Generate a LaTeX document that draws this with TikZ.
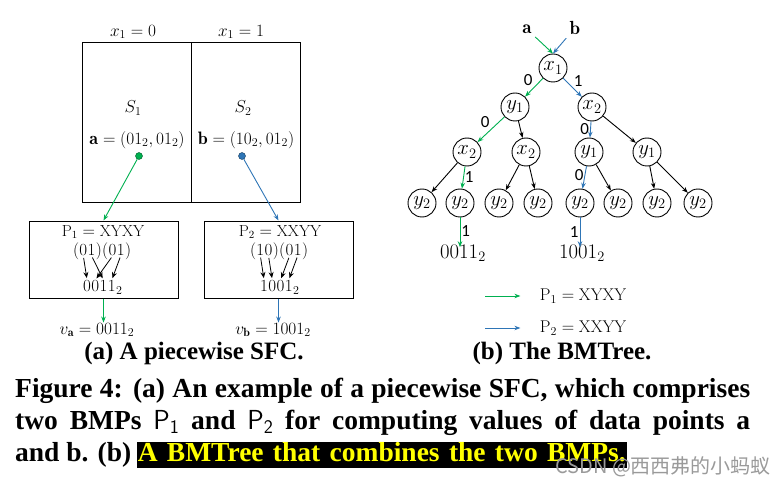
\documentclass[tikz,border=0pt]{standalone}
\usepackage{fontspec}
\usetikzlibrary{positioning, arrows.meta}
\newfontfamily\capfont{Liberation Serif}
\newfontfamily\lblfont{Carlito}
\newfontfamily\wmfont{Noto Sans CJK SC}
\newcommand{\fsz}[1]{\fontsize{#1}{#1}\selectfont}
\definecolor{pathGreen}{HTML}{00B050}
\definecolor{pathBlue}{HTML}{2E75B6}
\definecolor{markYellow}{HTML}{FFFF00}
\definecolor{markGray}{HTML}{9A9A9A}

\begin{document}
\begin{tikzpicture}[
    x=1pt, y=-1pt,
    every node/.style={font=\fsz{17}},
    bit/.style={
        circle,
        draw,
        line width=0.9pt,
        inner sep=0pt,
        minimum size=28pt,
        font=\fsz{20},
    },
    chr/.style={
        inner sep=0pt,
        anchor=base west,
    },
    cell/.style={
        draw,
        line width=1pt,
        minimum width=109pt,
        minimum height=160pt,
        inner sep=0pt,
    },
    bmpbox/.style={
        draw,
        line width=1pt,
        minimum width=149pt,
        minimum height=77pt,
        inner sep=0pt,
    },
    link/.style={
        -{Stealth[length=6pt, width=4.5pt]},
        line width=0.9pt,
    },
    glink/.style={link, color=pathGreen},
    blink/.style={link, color=pathBlue},
    mapar/.style={
        -{Stealth[length=6pt, width=5pt]},
        line width=0.8pt,
        shorten <=2pt,
        shorten >=2pt,
    },
    lbl/.style={font=\lblfont\fsz{17}, text=black, inner sep=1pt},
    subcap/.style={font=\capfont\bfseries\fsz{25}},
    caption/.style={
        font=\capfont\bfseries\fsz{27.5},
        anchor=base west,
        inner sep=0pt,
    },
]
\useasboundingbox (0,0) rectangle (783,486);

% ===== (a) piecewise SFC =====
\node[cell] (cellS1) at (136.5,123) {};
\node[cell] (cellS2) at (245.5,123) {};
\node (lx0) at (133,32) {$x_1=0$};
\node (lx1) at (241,32) {$x_1=1$};
\node[font=\fsz{18}] (lS1) at (133,108) {$S_1$};
\node[font=\fsz{18}] (lS2) at (243,108) {$S_2$};
\node[font=\fsz{18}] (pa) at (137,140) {$\mathbf{a}=(01_2,01_2)$};
\node[font=\fsz{18}] (pb) at (246,140) {$\mathbf{b}=(10_2,01_2)$};
\node[circle, inner sep=0pt, minimum size=7pt, fill=pathGreen, draw=pathGreen!50!black] (dota) at (139,156) {};
\node[circle, inner sep=0pt, minimum size=7pt, fill=pathBlue, draw=pathBlue!50!black] (dotb) at (242,156) {};

% BMP P1
\node[bmpbox] (p1box) at (103.5,259.5) {};
\node[font=\fsz{16}] (p1name) at (103,232) {$\mathrm{P}_1=\mathrm{XYXY}$};
\node[chr] (p1l1) at (72.8,255.5) {(};
\node[chr] (p1x1) at (p1l1.base east) {0};
\node[chr] (p1x2) at (p1x1.base east) {1};
\node[chr] (p1r1) at (p1x2.base east) {)};
\node[chr] (p1l2) at (p1r1.base east) {(};
\node[chr] (p1y1) at (p1l2.base east) {0};
\node[chr] (p1y2) at (p1y1.base east) {1};
\node[chr] (p1r2) at (p1y2.base east) {)};
\node[chr] (p1o1) at (83,291.5) {0};
\node[chr] (p1o2) at (p1o1.base east) {0};
\node[chr] (p1o3) at (p1o2.base east) {1};
\node[chr] (p1o4) at (p1o3.base east) {1};
\node[chr] (p1o5) at (p1o4.base east) {${}_2$};
\draw[mapar] (p1x1.south) -- (p1o1.north);
\draw[mapar] (p1y1.south) -- (p1o2.north);
\draw[mapar] (p1x2.south) -- (p1o3.north);
\draw[mapar] (p1y2.south) -- (p1o4.north);

% BMP P2
\node[bmpbox] (p2box) at (278.5,259.5) {};
\node[font=\fsz{16}] (p2name) at (280,232) {$\mathrm{P}_2=\mathrm{XXYY}$};
\node[chr] (p2l1) at (249.8,255.5) {(};
\node[chr] (p2x1) at (p2l1.base east) {1};
\node[chr] (p2x2) at (p2x1.base east) {0};
\node[chr] (p2r1) at (p2x2.base east) {)};
\node[chr] (p2l2) at (p2r1.base east) {(};
\node[chr] (p2y1) at (p2l2.base east) {0};
\node[chr] (p2y2) at (p2y1.base east) {1};
\node[chr] (p2r2) at (p2y2.base east) {)};
\node[chr] (p2o1) at (260,291.5) {1};
\node[chr] (p2o2) at (p2o1.base east) {0};
\node[chr] (p2o3) at (p2o2.base east) {0};
\node[chr] (p2o4) at (p2o3.base east) {1};
\node[chr] (p2o5) at (p2o4.base east) {${}_2$};
\draw[mapar] (p2x1.south) -- (p2o1.north);
\draw[mapar] (p2x2.south) -- (p2o2.north);
\draw[mapar] (p2y1.south) -- (p2o3.north);
\draw[mapar] (p2y2.south) -- (p2o4.north);

\node (va) at (97,330) {$v_{\mathbf{a}}=0011_2$};
\node (vb) at (273,330) {$v_{\mathbf{b}}=1001_2$};

\draw[glink] (dota) -- (p1box.north);
\draw[blink] (dotb) -- (p2box.north);
\draw[glink] (p1box.south) -- ([yshift=-3pt]p1box.south |- va.north);
\draw[blink] (p2box.south) -- ([yshift=-3pt]p2box.south |- vb.north);

\node[subcap] (capa) at (194,353) {(a) A piecewise SFC.};

% ===== (b) BMTree =====
\node[font=\fsz{19}] (ta) at (527,29) {$\mathbf{a}$};
\node[font=\fsz{19}] (tb) at (575,28) {$\mathbf{b}$};

\node[bit] (n) at (553,68) {$x_1$};
\node[bit] (n0) at (515,107) {$y_1$};
\node[bit] (n1) at (592,107) {$x_2$};
\node[bit] (n00) at (467,152) {$x_2$};
\node[bit] (n01) at (526,152) {$x_2$};
\node[bit] (n10) at (589,152) {$y_1$};
\node[bit] (n11) at (647,152) {$y_1$};
\node[bit] (n000) at (422,203) {$y_2$};
\node[bit] (n001) at (460,203) {$y_2$};
\node[bit] (n010) at (499,203) {$y_2$};
\node[bit] (n011) at (538,203) {$y_2$};
\node[bit] (n100) at (580,203) {$y_2$};
\node[bit] (n101) at (618,203) {$y_2$};
\node[bit] (n110) at (657,203) {$y_2$};
\node[bit] (n111) at (698,203) {$y_2$};

\node[font=\fsz{20}] (out1) at (463,253) {$0011_2$};
\node[font=\fsz{20}] (out2) at (582,253) {$1001_2$};

\draw[glink] (ta.south east) -- (n.north);
\draw[blink] (tb.south west) -- (n.north);

\draw[glink] (n) -- node[pos=.5, above left, lbl] {0} (n0);
\draw[blink] (n) -- node[pos=.5, above right, lbl] {1} (n1);
\draw[glink] (n0) -- node[pos=.5, above left, lbl] {0} (n00);
\draw[link] (n0) -- (n01);
\draw[blink] (n1) -- node[pos=.5, left, lbl] {0} (n10);
\draw[link] (n1) -- (n11);
\draw[link] (n00) -- (n000);
\draw[glink] (n00) -- node[pos=.5, right, lbl] {1} (n001);
\draw[link] (n01) -- (n010);
\draw[link] (n01) -- (n011);
\draw[blink] (n10) -- node[pos=.4, left, lbl] {0} (n100);
\draw[link] (n10) -- (n101);
\draw[link] (n11) -- (n110);
\draw[link] (n11) -- (n111);
\draw[glink] (n001) -- node[pos=.45, right, lbl] {1} ([yshift=-6pt]n001 |- out1.north);
\draw[blink] (n100) -- node[pos=.5, left, lbl] {1} ([yshift=-6pt]n100 |- out2.north);

% legend
\coordinate (lg1) at (485,296);
\coordinate (lg2) at (485,328);
\node (leg1) at (583,296) {$\mathrm{P}_1=\mathrm{XYXY}$};
\node (leg2) at (583,328) {$\mathrm{P}_2=\mathrm{XXYY}$};
\draw[glink, line width=0.7pt, shorten >=16pt] (lg1) -- (leg1);
\draw[blink, line width=0.7pt, shorten >=16pt] (lg2) -- (leg2);

\node[subcap] (capb) at (562,353) {(b) The BMTree.};

% ===== caption =====
\node[caption] (cap1) at (15,397) {\makebox[735pt][s]{Figure 4: (a) An example of a piecewise SFC, which comprises}};
\node[caption] (cap2) at (15,429) {\makebox[735pt][s]{two BMPs {\mdseries\sffamily P$_{\mathsf{1}}$} and {\mdseries\sffamily P$_{\mathsf{2}}$} for computing values of data points a}};
\node[caption] (cap3) at (15,461) {and b. (b)};
\node[caption, anchor=base west, fill=black, text=markYellow, inner xsep=1pt, text height=19pt, text depth=7pt]
    (hl) at ([xshift=5pt]cap3.base east) {\makebox[488pt][s]{A BMTree that combines the two BMPs.}};
\node[font=\wmfont\fsz{20}, text=markGray, anchor=west, inner sep=0pt] (wm) at (555,467) {CSDN @西西弗的小蚂蚁};

\end{tikzpicture}
\end{document}
